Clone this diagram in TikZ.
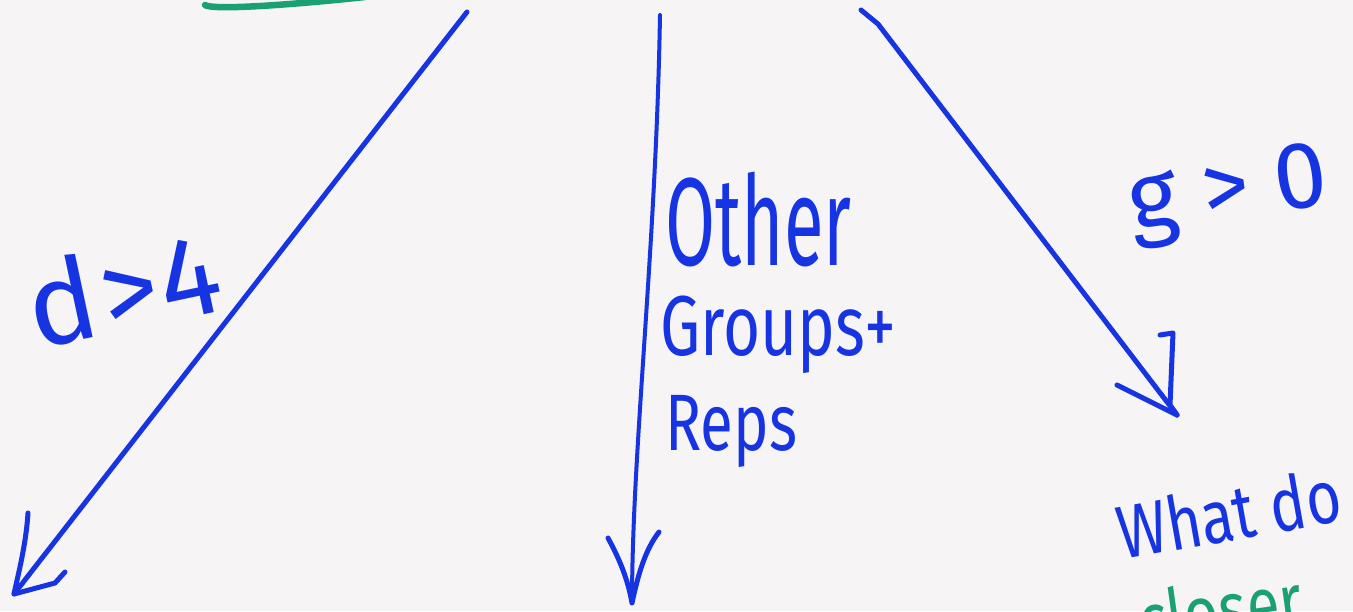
\documentclass[tikz,border=0pt]{standalone}
\usepackage{fontspec}
\setmainfont{Fira Sans}
\usepackage{graphicx}
\definecolor{ink}{RGB}{22,52,225}
\definecolor{inkgreen}{RGB}{25,160,115}
\definecolor{paper}{RGB}{246,244,245}
\begin{document}
\begin{tikzpicture}[x=1pt,y=-1pt,
  pen/.style={draw=ink, line width=5pt, line cap=round, line join=round},
  hand/.style={text=ink, inner sep=0pt, anchor=base west},
]
\fill[paper] (0,0) rectangle (1353,611);
\useasboundingbox (0,0) rectangle (1353,611);
\clip (0,0) rectangle (1353,611);
% green stroke at top
\coordinate (g1) at (205,5);
\coordinate (g2) at (365,-3);
\draw[draw=inkgreen, line width=6.5pt, line cap=round] (g1) .. controls (212,10) and (280,6) .. (g2);
% left arrow
\coordinate (Ls) at (467,12);
\coordinate (Le) at (14,594);
\coordinate (La1) at (28,513);
\coordinate (La2) at (55,583);
\coordinate (La3) at (65,572);
\draw[pen] (Ls) -- (Le);
\draw[pen] (La1) .. controls (26,545) and (18,575) .. (Le) -- (La2) -- (La3);
% middle arrow
\coordinate (Ms) at (660,15);
\coordinate (Me) at (632,603);
\coordinate (Ma1) at (608,538);
\coordinate (Ma2) at (659,532);
\draw[pen, line width=4pt] (Ms) .. controls (656,250) and (632,450) .. (Me);
\draw[pen] (Ma1) .. controls (620,560) and (628,580) .. (Me) .. controls (638,575) and (645,550) .. (Ma2);
% right arrow
\coordinate (Rs) at (861,10);
\coordinate (Rk) at (878,24);
\coordinate (Re) at (1177,415);
\coordinate (Ra1) at (1160,335);
\coordinate (Ra2) at (1173,333);
\coordinate (Ra3) at (1117,385);
\draw[pen] (Rs) -- (Rk) -- (Re);
\draw[pen] (Ra1) -- (Ra2) -- (1170,405) -- (Re);
\draw[pen] (Ra3) -- (Re);
% labels
\node[hand, rotate=12] (d4) at (36,350) {\fontsize{115}{115}\selectfont d\kern6pt>\kern2pt4};
\node[hand] (other) at (665,265) {\fontsize{125}{125}\selectfont\scalebox{0.58}[1]{Other}};
\node[hand] (groups) at (660,355) {\fontsize{85}{85}\selectfont\scalebox{0.75}[1]{Groups+}};
\node[hand] (reps) at (665,450) {\fontsize{80}{80}\selectfont\scalebox{0.75}[1]{Reps}};
\node[hand, rotate=8] (g0) at (1132,232) {\fontsize{95}{95}\selectfont g > 0};
\node[hand, rotate=10] (what) at (1122,560) {\fontsize{75}{75}\selectfont\scalebox{0.8}[1]{What do}};
\node[hand, text=inkgreen, rotate=8] (closer) at (1142,648) {\fontsize{75}{75}\selectfont\scalebox{0.8}[1]{closer}};
\end{tikzpicture}
\end{document}
